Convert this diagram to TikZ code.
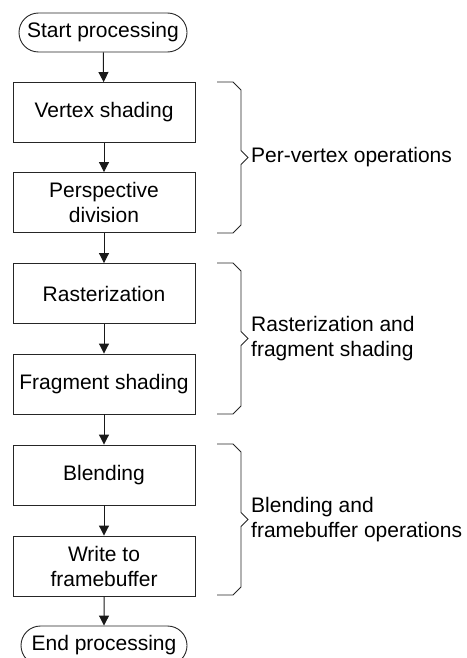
\documentclass[tikz,border=0pt]{standalone}
\usepackage{fontspec}
\setmainfont{Liberation Sans}
\usetikzlibrary{arrows.meta,shapes.misc}
\begin{document}
\begin{tikzpicture}[x=1bp,y=-1bp,
  every node/.style={font=\fontsize{21bp}{25bp}\selectfont, inner sep=0pt},
  stepbox/.style={draw=black!85, line width=0.9bp, minimum width=182bp, minimum height=60bp, align=center},
  term/.style={draw=black!85, line width=0.9bp, rounded rectangle, minimum width=168bp, minimum height=39bp},
  flow/.style={draw=black!90, line width=1bp, -{Triangle[width=10bp,length=10bp]}},
  brace/.style={draw=black!85, line width=0.9bp},
  lbl/.style={anchor=west, align=left}]
\useasboundingbox (0,0) rectangle (467,658);
\node[term] (start) at (103,32.5) {Start processing};
\node[stepbox] (vs) at (104,112.5) {Vertex shading};
\node[stepbox] (pd) at (104,202.5) {Perspective\\division};
\node[stepbox] (ra) at (104,293.5) {Rasterization};
\node[stepbox] (fs) at (104,384) {Fragment shading};
\node[stepbox] (bl) at (104,475) {Blending};
\node[stepbox] (wf) at (104,566) {Write to\\framebuffer};
\node[term, minimum width=166bp] (end) at (104,645.5) {End processing};
\draw[flow] (start) -- (vs);
\draw[flow] (vs) -- (pd);
\draw[flow] (pd) -- (ra);
\draw[flow] (ra) -- (fs);
\draw[flow] (fs) -- (bl);
\draw[flow] (bl) -- (wf);
\draw[flow] (wf) -- (end);
% braces
\coordinate (b1) at (248,157.5);
\coordinate (b2) at (248,338.5);
\coordinate (b3) at (248,519.5);
\draw[brace] (217,82) -- (233,82) -- (241,90) -- (241,150.5) -- (b1) -- (241,164.5) -- (241,225) -- (233,233) -- (217,233);
\draw[brace] (217,263) -- (233,263) -- (241,271) -- (241,331.5) -- (b2) -- (241,345.5) -- (241,406) -- (233,414) -- (217,414);
\draw[brace] (217,444) -- (233,444) -- (241,452) -- (241,512.5) -- (b3) -- (241,526.5) -- (241,587) -- (233,595) -- (217,595);
\node[lbl] (l1) at ([xshift=3bp]b1) {Per-vertex operations};
\node[lbl] (l2) at ([xshift=3bp]b2) {Rasterization and\\fragment shading};
\node[lbl] (l3) at ([xshift=3bp]b3) {Blending and\\framebuffer operations};
\end{tikzpicture}
\end{document}
